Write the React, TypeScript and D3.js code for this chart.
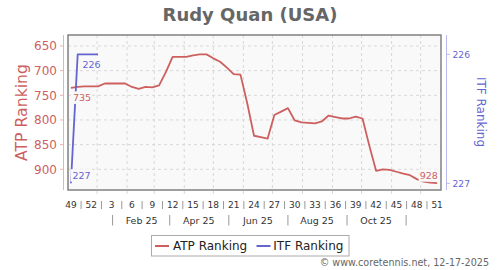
import React from "react";
import * as d3 from "d3";

const weeks = [
  "2024-49","2024-50","2024-51","2024-52",
  "2025-1","2025-2","2025-3","2025-4","2025-5","2025-6","2025-7","2025-8","2025-9","2025-10",
  "2025-11","2025-12","2025-13","2025-14","2025-15","2025-16","2025-17","2025-18","2025-19","2025-20",
  "2025-21","2025-22","2025-23","2025-24","2025-25","2025-26","2025-27","2025-28","2025-29","2025-30",
  "2025-31","2025-32","2025-33","2025-34","2025-35","2025-36","2025-37","2025-38","2025-39","2025-40",
  "2025-41","2025-42","2025-43","2025-44","2025-45","2025-46","2025-47","2025-48","2025-49","2025-50","2025-51",
];
const atpRanking = [
  735, 733, 732, 732,
  732, 726, 726, 726, 726, 733, 737, 733, 734, 730,
  703, 672, 672, 672, 669, 667, 667, 675, 682, 694,
  707, 708, 766, 832, 835, 838, 790, 783, 776, 801,
  805, 806, 807, 803, 791, 794, 797, 797, 793, 797,
  852, 903, 900, 901, 905, 909, 912, 920, 925, 927, 928,
];
const itfWeeks = ["2024-49","2024-50","2024-51","2024-52","2025-1"];
const itfRanking = [227, 226, 226, 226, 226];

const atpTicks = [650, 700, 750, 800, 850, 900];
const itfTicks = [226, 227];
const weekTickLabels = [
  "2024-49","2024-52","2025-3","2025-6","2025-9","2025-12","2025-15","2025-18","2025-21","2025-24",
  "2025-27","2025-30","2025-33","2025-36","2025-39","2025-42","2025-45","2025-48","2025-51",
];
const monthLabels = ["Feb 25", "Apr 25", "Jun 25", "Aug 25", "Oct 25"];
const monthLabelDates = ["2025-02-16", "2025-04-16", "2025-06-16", "2025-08-16", "2025-10-16"];
const monthSepDates = ["2025-01-17", "2025-03-17", "2025-05-17", "2025-07-17", "2025-09-16", "2025-11-16"];

const RED = "#cd5f5f";
const BLUE = "#6464d2";
const FONT = "DejaVu Sans";

function weekDate(w: string): Date {
  const [y, n] = w.split("-").map(Number);
  // ISO week Thursday
  const jan4 = new Date(Date.UTC(y, 0, 4));
  const dow = (jan4.getUTCDay() + 6) % 7;
  const monday1 = new Date(jan4.getTime() - dow * 86400000);
  return new Date(monday1.getTime() + ((n - 1) * 7 + 3) * 86400000);
}
function parseDay(s: string): Date {
  const [y, m, d] = s.split("-").map(Number);
  return new Date(Date.UTC(y, m - 1, d));
}

export default function App() {
  const left = 68, right = 441, top = 35, bottom = 190;
  const x = d3.scaleUtc()
    .domain([new Date(Date.UTC(2024, 11, 2)), new Date(Date.UTC(2025, 11, 22))])
    .range([left, right]);
  const yL = d3.scaleLinear().domain([627.7, 942]).range([top, bottom]);
  const yR = d3.scaleLinear().domain([226, 227]).range([54.3, 183.3]);

  const atpData = weeks.map((w, i) => ({ d: weekDate(w), v: atpRanking[i] }));
  const itfData = itfWeeks.map((w, i) => ({ d: weekDate(w), v: itfRanking[i] }));

  const atpLine = d3.line<{ d: Date; v: number }>().x(p => x(p.d)).y(p => yL(p.v));
  const itfLine = d3.line<{ d: Date; v: number }>().x(p => x(p.d)).y(p => yR(p.v));

  const monthGrid = d3.utcMonth.range(x.domain()[0], x.domain()[1]).filter(d => x(d) > left + 1);
  const weekPos = weekTickLabels.map(w => x(weekDate(w)));

  const bg = "#f9f9f9";
  const labelBox = (tx: number, ty: number, text: string, color: string, anchor: "start" | "end") => {
    const w = text.length * 6.05;
    const bx = anchor === "start" ? tx - 2 : tx - w - 1;
    return (
      <g key={text + tx}>
        <rect x={bx} y={ty - 6.5} width={w + 3} height={12.5} fill={bg} />
        <text x={tx} y={ty + 3.5} fontSize={9.5} fill={color} textAnchor={anchor} fontFamily={FONT}>{text}</text>
      </g>
    );
  };

  const a0 = atpData[0], aN = atpData[atpData.length - 1];
  const i0 = itfData[0], i1 = itfData[1];

  return (
    <svg width={500} height={270} style={{ position: "absolute", left: 0, top: 0 }} fontFamily={FONT}>
      <rect x={0} y={0} width={500} height={270} fill="#fff" />
      <text x={250} y={20.5} textAnchor="middle" fontSize={18} fontWeight="bold" fill="#666">Rudy Quan (USA)</text>

      <rect x={left} y={top} width={right - left} height={bottom - top} fill={bg} />
      {atpTicks.map(t => (
        <line key={"h" + t} x1={left} x2={right} y1={yL(t)} y2={yL(t)} stroke="#d8d8d8" strokeDasharray="3,3" />
      ))}
      {monthGrid.map(d => (
        <line key={"v" + d.getTime()} x1={x(d)} x2={x(d)} y1={top} y2={bottom + 6} stroke="#d8d8d8" strokeDasharray="3,3" />
      ))}
      <rect x={left} y={top} width={right - left} height={bottom - top} fill="none" stroke="#808080" strokeWidth={1.5} />

      {/* left axis */}
      <line x1={63.5} x2={63.5} y1={top} y2={bottom} stroke="#e3b5b5" />
      {atpTicks.map(t => (
        <g key={"lt" + t}>
          <line x1={60} x2={63.5} y1={yL(t)} y2={yL(t)} stroke="#e3b5b5" />
          <text x={57} y={yL(t) + 4.3} textAnchor="end" fontSize={12} fill={RED}>{t}</text>
        </g>
      ))}
      <text transform={`translate(26.5,112.5) rotate(-90)`} textAnchor="middle" fontSize={15.7} fill={RED}>ATP Ranking</text>

      {/* right axis */}
      <line x1={446.5} x2={446.5} y1={top} y2={bottom} stroke="#b8b8ec" />
      {itfTicks.map(t => (
        <g key={"rt" + t}>
          <line x1={446.5} x2={450} y1={yR(t)} y2={yR(t)} stroke="#b8b8ec" />
          <text x={452.5} y={yR(t) + 3.3} fontSize={9.2} fill={BLUE}>{t}</text>
        </g>
      ))}
      <text transform={`translate(476.7,112) rotate(90)`} textAnchor="middle" fontSize={12} fill={BLUE}>ITF Ranking</text>

      {/* x axis week labels */}
      {weekTickLabels.map((w, i) => (
        <text key={"wl" + w} x={weekPos[i]} y={207.5} textAnchor="middle" fontSize={9} fill="#333">{w.split("-")[1]}</text>
      ))}
      {weekPos.slice(0, -1).map((p, i) => {
        const m = (p + weekPos[i + 1]) / 2;
        return <line key={"ws" + i} x1={m} x2={m} y1={201} y2={209} stroke="#999" />;
      })}
      {monthLabels.map((l, i) => (
        <text key={"ml" + l} x={x(parseDay(monthLabelDates[i]))} y={224} textAnchor="middle" fontSize={9.5} fill="#333">{l}</text>
      ))}
      {monthSepDates.map(s => (
        <line key={"ms" + s} x1={x(parseDay(s))} x2={x(parseDay(s))} y1={215} y2={225.5} stroke="#999" />
      ))}

      {/* series */}
      <path d={atpLine(atpData) || ""} fill="none" stroke={RED} strokeWidth={1.8} strokeLinejoin="round" />
      <path d={itfLine(itfData) || ""} fill="none" stroke={BLUE} strokeWidth={1.8} strokeLinejoin="round" />

      {labelBox(x(a0.d) + 2, yL(a0.v) + 10, String(a0.v), RED, "start")}
      {labelBox(x(aN.d) + 0.7, yL(aN.v) - 7.4, String(aN.v), RED, "end")}
      {labelBox(x(i0.d) + 1.5, yR(i0.v) - 7.6, String(i0.v), BLUE, "start")}
      {labelBox(x(i1.d) + 4.7, yR(i1.v) + 9.7, String(i1.v), BLUE, "start")}

      {/* legend */}
      <rect x={151.5} y={235.5} width={197.5} height={20.5} fill="#fff" stroke="#aaa" />
      <line x1={155} x2={169} y1={246} y2={246} stroke={RED} strokeWidth={2} />
      <text x={173} y={250.3} fontSize={12} fill="#222">ATP Ranking</text>
      <line x1={256.5} x2={270.5} y1={246} y2={246} stroke={BLUE} strokeWidth={2} />
      <text x={273.3} y={250.3} fontSize={12} fill="#222">ITF Ranking</text>

      <text x={489} y={266} textAnchor="end" fontSize={9.6} fill="#666">© www.coretennis.net, 12-17-2025</text>
    </svg>
  );
}
